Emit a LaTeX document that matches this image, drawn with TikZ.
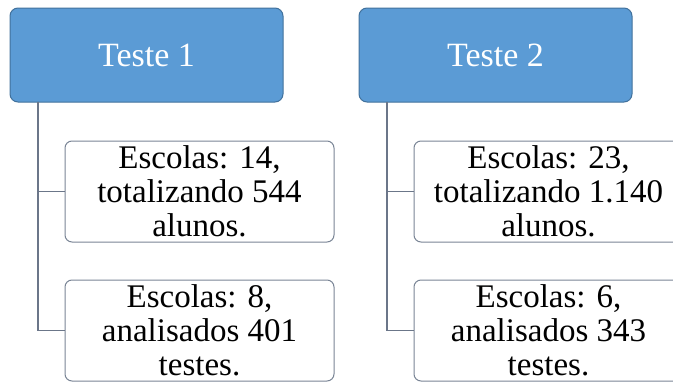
\documentclass[tikz,border=0pt]{standalone}
\usepackage{fontspec}
\setmainfont{Liberation Serif}
\definecolor{hdrfill}{HTML}{5B9BD5}
\definecolor{hdrdraw}{HTML}{41719C}
\definecolor{kiddraw}{HTML}{7A8596}
\definecolor{linecol}{HTML}{6B7689}
\tikzset{
  hdr/.style={draw=hdrdraw, fill=hdrfill, line width=1pt, rounded corners=8pt,
    minimum width=273pt, minimum height=94pt, text=white, inner sep=0pt,
    font=\fontsize{34}{38}\selectfont},
  kid/.style={draw=kiddraw, fill=white, line width=1pt, rounded corners=7pt,
    minimum width=269pt, minimum height=101pt, align=center, inner sep=0pt,
    font=\fontsize{33}{34}\selectfont},
  conn/.style={draw=linecol, line width=1.2pt}
}
\begin{document}
\begin{tikzpicture}[x=1pt,y=-1pt]
\useasboundingbox (0,0) rectangle (673,381);
\clip (0,0) rectangle (673,381);
\node[hdr] (h1) at (146.5,55) {Teste 1};
\node[hdr] (h2) at (495.5,55) {Teste 2};
\node[kid] (a1) at (199.5,191.5) {Escolas: 14,\\totalizando 544\\alunos.};
\node[kid] (b1) at (199.5,330.5) {Escolas: 8,\\analisados 401\\testes.};
\node[kid] (a2) at (548.5,191.5) {Escolas: 23,\\totalizando 1.140\\alunos.};
\node[kid] (b2) at (548.5,330.5) {Escolas: 6,\\analisados 343\\testes.};
\coordinate (t1) at (38,102);
\coordinate (t2) at (387,102);
\draw[conn] (t1) |- (a1.west);
\draw[conn] (t1) |- (b1.west);
\draw[conn] (t2) |- (a2.west);
\draw[conn] (t2) |- (b2.west);
\end{tikzpicture}
\end{document}
